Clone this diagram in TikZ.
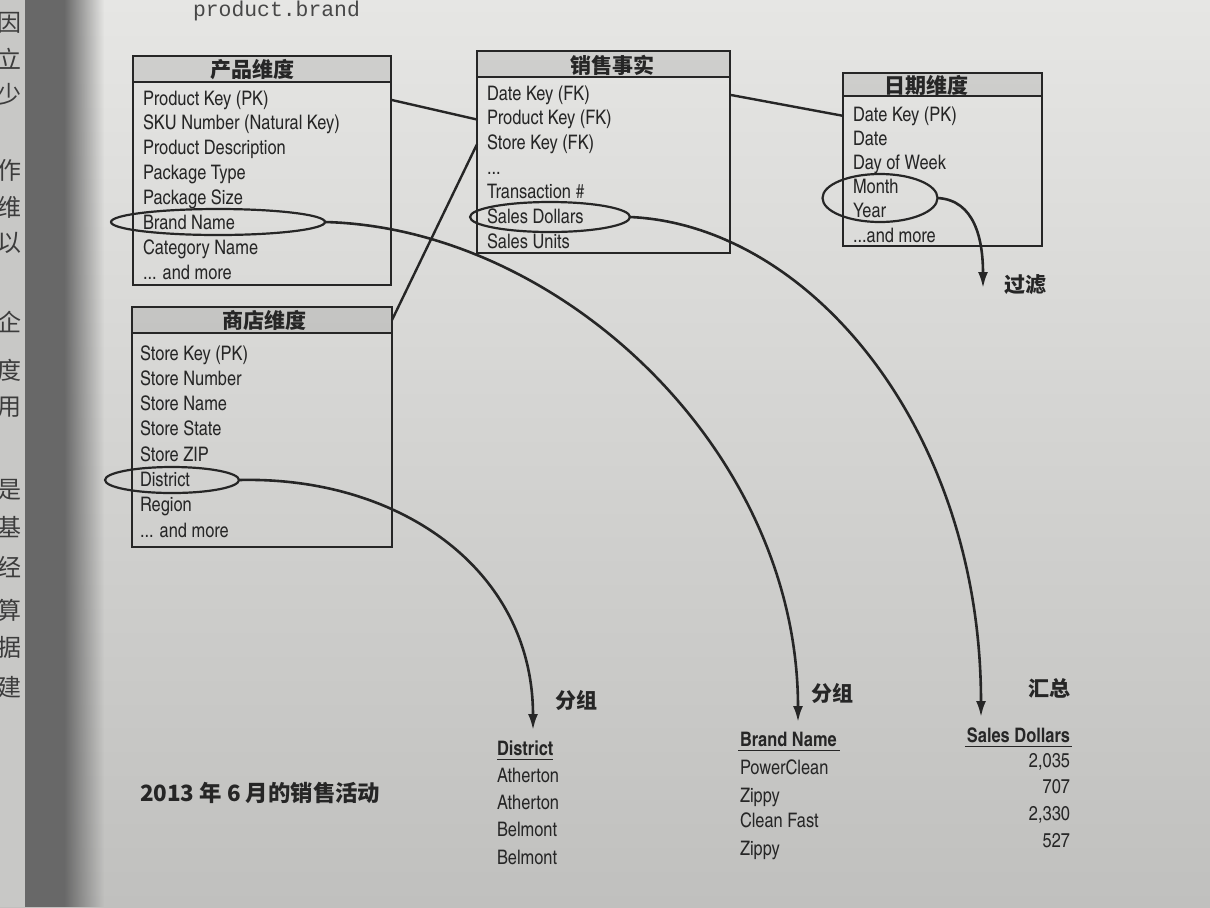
\documentclass[tikz,border=0pt]{standalone}
\usepackage{fontspec}
\setmainfont{texgyreheroscn}[Extension=.otf, UprightFont=*-regular, BoldFont=*-bold, ItalicFont=*-italic, BoldItalicFont=*-bolditalic]
\setmonofont{Liberation Mono}
\newfontfamily\cjk{Noto Sans CJK SC}
\usetikzlibrary{shapes.geometric,arrows.meta,calc,fadings}

\definecolor{ink}{RGB}{38,38,38}
\definecolor{paperTop}{RGB}{230,230,228}
\definecolor{paperBot}{RGB}{192,192,190}
\definecolor{gutter}{RGB}{104,104,104}
\definecolor{leftpage}{RGB}{200,200,198}

\begin{document}
\begin{tikzpicture}[x=0.5pt,y=-0.5pt,
  every node/.style={inner sep=0pt, outer sep=0pt, text=ink},
  tablebox/.style={draw=ink, line width=1.1pt, rectangle, anchor=north west},
  headband/.style={draw=ink, line width=1.1pt, fill=black, fill opacity=0.09, rectangle, anchor=north west},
  row/.style={anchor=base west, font=\fontsize{10}{12}\selectfont},
  headtext/.style={font=\cjk\bfseries\fontsize{10.5}{12}\selectfont},
  oval/.style={draw=ink, line width=1.1pt, ellipse},
  link/.style={draw=ink, line width=1.2pt},
  flow/.style={draw=ink, line width=1.3pt, -{Latex[length=8pt,width=5pt]}},
  colhead/.style={font=\bfseries\fontsize{10}{12}\selectfont},
  val/.style={font=\fontsize{10}{12}\selectfont},
  tag/.style={font=\cjk\bfseries\fontsize{10.5}{12}\selectfont},
  uline/.style={draw=ink, line width=0.9pt},
]
\useasboundingbox (0,0) rectangle (1210,907);

% paper, gutter shadow and the edge of the facing page
\shade[top color=paperTop, bottom color=paperBot] (0,0) rectangle (1210,907);
\fill[leftpage] (0,0) rectangle (25,907);
\fill[gutter] (25,0) rectangle (64,907);
\fill[gutter, path fading=east] (64,0) rectangle (104,907);
\begin{scope}
  \clip (0,0) rectangle (24,907);
  \foreach \c/\yy in {因/23, 立/59, 少/94, 作/170, 维/207, 以/243, 企/322, 度/370, 用/407, 是/490, 基/527, 经/567, 算/610, 据/647, 建/687}
    \node[font=\cjk\fontsize{12}{13}\selectfont, text=ink!90] (lp\yy) at (9,\yy) {\c};
\end{scope}

% running text at the top of the page
\node[anchor=base west, font=\ttfamily\fontsize{10.7}{12}\selectfont, text=ink!85] (code) at (193,16) {product.brand};

% ---------- product dimension ----------
\node[tablebox, minimum width=129pt, minimum height=114.5pt] (pbox) at (133,56) {};
\node[headband, minimum width=129pt, minimum height=13pt] (pband) at (133,56) {};
\node[headtext] (ph) at (252,70) {产品维度};
\foreach \t [count=\i] in {{Product Key (PK)}, {SKU Number (Natural Key)}, {Product Description}, {Package Type}, {Package Size}, {Brand Name}, {Category Name}, {{...} and more}}
  \node[row] (p\i) at (143,{105+(\i-1)*24.9}) {\t};

% ---------- sales fact ----------
\node[tablebox, minimum width=126.5pt, minimum height=101pt] (fbox) at (477,51) {};
\node[headband, minimum width=126.5pt, minimum height=13pt] (fband) at (477,51) {};
\node[headtext] (fh) at (612,65) {销售事实};
\foreach \t [count=\i] in {{Date Key (FK)}, {Product Key (FK)}, {Store Key (FK)}, {{...}}, {Transaction \#}, {Sales Dollars}, {Sales Units}}
  \node[row] (f\i) at (487,{100+(\i-1)*24.7}) {\t};

% ---------- date dimension ----------
\node[tablebox, minimum width=99.5pt, minimum height=86.5pt] (dbox) at (843,73) {};
\node[headband, minimum width=99.5pt, minimum height=11.5pt] (dband) at (843,73) {};
\node[headtext] (dh) at (926,85) {日期维度};
\foreach \t [count=\i] in {{Date Key (PK)}, {Date}, {Day of Week}, {Month}, {Year}, {{...}and more}}
  \node[row] (d\i) at (853,{121+(\i-1)*24.2}) {\t};

% ---------- store dimension ----------
\node[tablebox, minimum width=130pt, minimum height=120pt] (sbox) at (132,307) {};
\node[headband, minimum width=130pt, minimum height=13pt] (sband) at (132,307) {};
\node[headtext] (sh) at (264,320) {商店维度};
\foreach \t [count=\i] in {{Store Key (PK)}, {Store Number}, {Store Name}, {Store State}, {Store ZIP}, {District}, {Region}, {{...} and more}}
  \node[row] (s\i) at (140,{360+(\i-1)*25.3}) {\t};

% key joins
\draw[link] (pbox.east |- p1) -- (fbox.west |- f2);
\draw[link] (sbox.east |- sh) -- (fbox.west |- f3);
\draw[link] (fbox.east |- f1) -- (dbox.west |- d1);

% highlighted attributes
\node[oval, minimum width=107pt, minimum height=13pt] (brandOval) at (218,222) {};
\node[oval, minimum width=80pt, minimum height=15pt] (salesOval) at (550,217) {};
\node[oval, minimum width=57.5pt, minimum height=24pt] (dateOval) at (880,198) {};
\node[oval, minimum width=67pt, minimum height=13pt] (distOval) at (172,480) {};

% where each attribute goes
\coordinate (tipDist) at (533,730);
\coordinate (tipBrand) at (798,722);
\coordinate (tipSales) at (981,717);
\coordinate (tipFilter) at (983,288);
\draw[flow] (distOval.east) .. controls (400,476) and (533,570) .. (tipDist);
\draw[flow] (brandOval.east) .. controls (560,228) and (798,450) .. (tipBrand);
\draw[flow] (salesOval.east) .. controls (810,225) and (981,430) .. (tipSales);
\draw[flow] (dateOval.east) .. controls (975,200) and (983,240) .. (tipFilter);

\node[tag] (tagDist) at (576,700) {分组};
\node[tag] (tagBrand) at (832,693) {分组};
\node[tag] (tagSum) at (1049,688) {汇总};
\node[tag] (tagFilt) at (1025,285) {过滤};

% result columns
\node[colhead, anchor=base west] (hDist) at (497,755) {District};
\draw[uline] ([yshift=-2.2pt]hDist.base west) -- ([yshift=-2.2pt]hDist.base east);
\foreach \t/\yy [count=\i] in {Atherton/782, Atherton/809, Belmont/836, Belmont/864}
  \node[val, anchor=base west] (vd\i) at (497,\yy) {\t};

\node[colhead, anchor=base west] (hBrand) at (740,746) {Brand Name};
\draw[uline] ([xshift=-1pt,yshift=-2.2pt]hBrand.base west) -- ([xshift=1.5pt,yshift=-2.2pt]hBrand.base east);
\foreach \t/\yy [count=\i] in {PowerClean/774, Zippy/802, Clean Fast/827, Zippy/855}
  \node[val, anchor=base west] (vb\i) at (740,\yy) {\t};

\node[colhead, anchor=base east] (hSales) at (1070,742) {Sales Dollars};
\draw[uline] ([xshift=-1pt,yshift=-2.2pt]hSales.base west) -- ([xshift=1pt,yshift=-2.2pt]hSales.base east);
\foreach \t/\yy [count=\i] in {{2,035}/767, 707/793, {2,330}/820, 527/847}
  \node[val, anchor=base east] (vs\i) at (1070,\yy) {\t};

\node[anchor=west, font=\cjk\bfseries\fontsize{11.2}{12}\selectfont] (caption) at (140,793) {2013 年 6 月的销售活动};
\end{tikzpicture}
\end{document}
